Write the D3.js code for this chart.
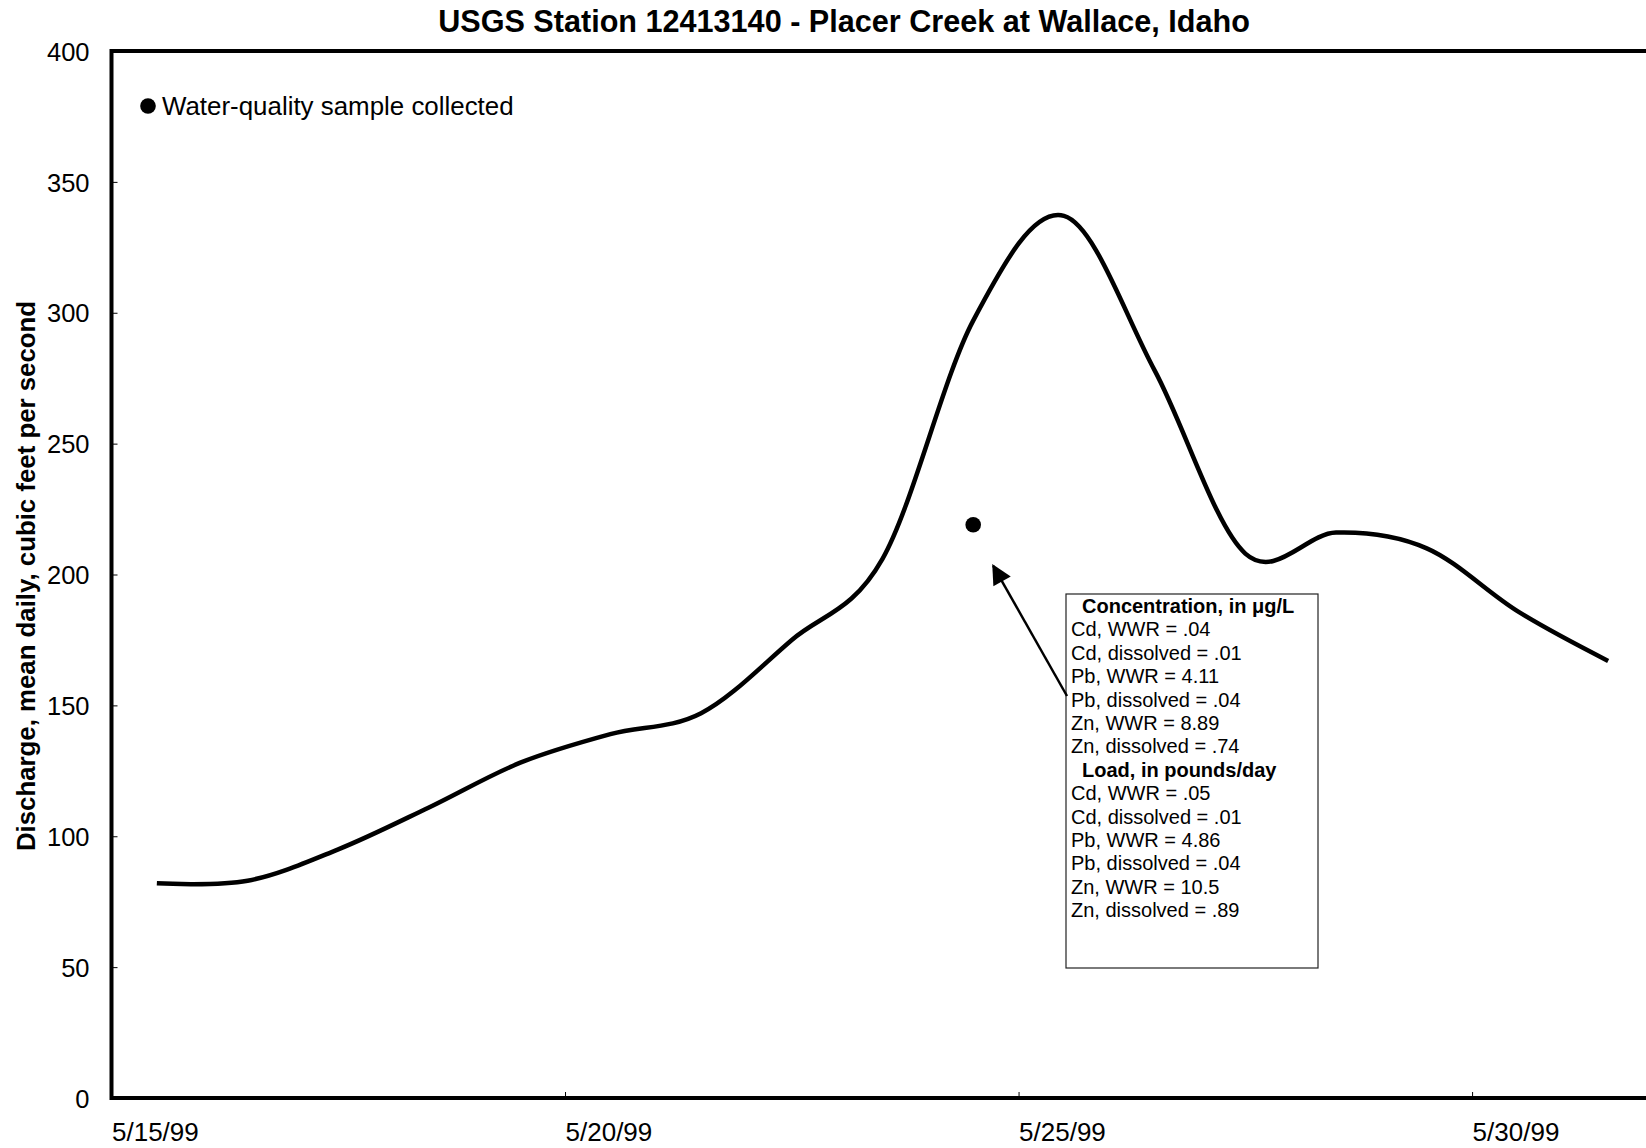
<!DOCTYPE html>
<html>
<head>
<meta charset="utf-8">
<script src="https://cdn.jsdelivr.net/npm/d3@7"></script>
<style>
  html, body { margin: 0; padding: 0; background: #fff; }
  svg { display: block; font-family: "Liberation Sans", Arial, sans-serif; }
</style>
</head>
<body>
<svg id="chart" width="1646" height="1148"></svg>
<script>
// ---- data ----
const dates = ["1999-05-15","1999-05-16","1999-05-17","1999-05-18","1999-05-19","1999-05-20",
               "1999-05-21","1999-05-22","1999-05-23","1999-05-24","1999-05-25","1999-05-26",
               "1999-05-27","1999-05-28","1999-05-29","1999-05-30","1999-05-31"];
const discharge = [82, 83, 95, 111, 128, 139, 147, 175, 206, 297, 337, 278, 208, 216, 210, 186, 167];
const sampleDates = ["1999-05-24"];
const sampleValues = [219];
const yTicks = [0, 50, 100, 150, 200, 250, 300, 350, 400];
const xTickDates = ["1999-05-15","1999-05-20","1999-05-25","1999-05-30"];
const titleText = "USGS Station 12413140 - Placer Creek at Wallace, Idaho";
const yLabel = "Discharge, mean daily, cubic feet per second";
const legendText = "Water-quality sample collected";
const concHeader = "Concentration, in \u03BCg/L";
const concLines = ["Cd, WWR = .04","Cd, dissolved = .01","Pb, WWR = 4.11","Pb, dissolved = .04","Zn, WWR = 8.89","Zn, dissolved = .74"];
const loadHeader = "Load, in pounds/day";
const loadLines = ["Cd, WWR = .05","Cd, dissolved = .01","Pb, WWR = 4.86","Pb, dissolved = .04","Zn, WWR = 10.5","Zn, dissolved = .89"];

// ---- layout ----
const svg = d3.select("#chart");
const parse = d3.timeParse("%Y-%m-%d");
const plotL = 111.5, plotR = 1653.5, plotT = 51, plotB = 1098;

const x = d3.scaleTime()
  .domain([parse("1999-05-15"), parse("1999-06-01")])
  .range([plotL, plotR]);
const y = d3.scaleLinear().domain([0, 400]).range([plotB, plotT]);
const noon = d => d3.timeHour.offset(parse(d), 12);

// title
svg.append("text")
  .attr("x", 844).attr("y", 32)
  .attr("text-anchor", "middle")
  .attr("font-weight", "bold")
  .attr("font-size", 30.6)
  .text(titleText);

// y axis label
svg.append("text")
  .attr("transform", "translate(35,576) rotate(-90)")
  .attr("text-anchor", "middle")
  .attr("font-weight", "bold")
  .attr("font-size", 25.8)
  .text(yLabel);

// y axis
const yAxis = svg.append("g")
  .attr("transform", `translate(${plotL},0)`)
  .call(d3.axisLeft(y).tickValues(yTicks).tickSizeInner(-6).tickSizeOuter(0).tickPadding(22));
yAxis.select(".domain").remove();
yAxis.selectAll(".tick line").attr("stroke", "#000").attr("stroke-width", 1);
yAxis.selectAll(".tick text")
  .attr("font-size", 25.5).attr("font-family", "Liberation Sans, Arial, sans-serif")
  .attr("fill", "#000").attr("dy", "0.36em");

// x axis
const xAxis = svg.append("g")
  .attr("transform", `translate(0,${plotB})`)
  .call(d3.axisBottom(x).tickValues(xTickDates.map(parse))
        .tickFormat(d3.timeFormat("%-m/%-d/%y"))
        .tickSizeInner(-6).tickSizeOuter(0));
xAxis.select(".domain").remove();
xAxis.selectAll(".tick line").attr("stroke", "#000").attr("stroke-width", 1);
xAxis.selectAll(".tick text")
  .attr("font-size", 26).attr("font-family", "Liberation Sans, Arial, sans-serif")
  .attr("fill", "#000")
  .attr("text-anchor", "start")
  .attr("x", 0).attr("y", 43).attr("dy", 0);

// frame
const frame = svg.append("g").attr("stroke", "#000").attr("stroke-width", 4).attr("fill", "none");
frame.append("line").attr("x1", plotL).attr("x2", plotL).attr("y1", plotT - 2).attr("y2", plotB + 2);
frame.append("line").attr("x1", plotL).attr("x2", plotR).attr("y1", plotT).attr("y2", plotT);
frame.append("line").attr("x1", plotL).attr("x2", plotR).attr("y1", plotB).attr("y2", plotB);
frame.append("line").attr("x1", plotR).attr("x2", plotR).attr("y1", plotT).attr("y2", plotB);

// discharge line
const series = dates.map((d, i) => ({ t: noon(d), v: discharge[i] }));
svg.append("path")
  .datum(series)
  .attr("fill", "none")
  .attr("stroke", "#000")
  .attr("stroke-width", 4.5)
  .attr("stroke-linejoin", "round")
  .attr("d", d3.line().x(d => x(d.t)).y(d => y(d.v)).curve(d3.curveCardinal.tension(0)));

// sample points
svg.selectAll("circle.sample")
  .data(sampleDates.map((d, i) => ({ t: noon(d), v: sampleValues[i] })))
  .enter().append("circle")
  .attr("class", "sample")
  .attr("cx", d => x(d.t)).attr("cy", d => y(d.v)).attr("r", 7.8)
  .attr("fill", "#000");

// legend
svg.append("circle").attr("cx", 148).attr("cy", 106).attr("r", 7.8).attr("fill", "#000");
svg.append("text").attr("x", 162).attr("y", 115).attr("font-size", 25.9).text(legendText);

// annotation box
const bx = 1066, by = 594, bw = 252, bh = 374;
svg.append("rect").attr("x", bx).attr("y", by).attr("width", bw).attr("height", bh)
  .attr("fill", "#fff").attr("stroke", "#222").attr("stroke-width", 1.2);
const lineH = 23.4;
const boxLines = [{t: concHeader, b: true}]
  .concat(concLines.map(t => ({t, b: false})))
  .concat([{t: loadHeader, b: true}])
  .concat(loadLines.map(t => ({t, b: false})));
svg.selectAll("text.box")
  .data(boxLines).enter().append("text")
  .attr("class", "box")
  .attr("x", d => d.b ? 1082 : 1071)
  .attr("y", (d, i) => 613 + i * lineH)
  .attr("font-size", 20)
  .attr("font-weight", d => d.b ? "bold" : "normal")
  .text(d => d.t);

// arrow
const defs = svg.append("defs");
defs.append("marker")
  .attr("id", "ah").attr("viewBox", "0 0 10 10").attr("refX", 9).attr("refY", 5)
  .attr("markerWidth", 9).attr("markerHeight", 8).attr("markerUnits", "strokeWidth")
  .attr("orient", "auto")
  .append("path").attr("d", "M0,0 L10,5 L0,10 Z").attr("fill", "#000");
const sx = x(noon(sampleDates[0])), sy = y(sampleValues[0]);
svg.append("line")
  .attr("x1", 1067).attr("y1", 696)
  .attr("x2", sx + 20).attr("y2", sy + 41)
  .attr("stroke", "#000").attr("stroke-width", 2.5)
  .attr("marker-end", "url(#ah)");
</script>
</body>
</html>
